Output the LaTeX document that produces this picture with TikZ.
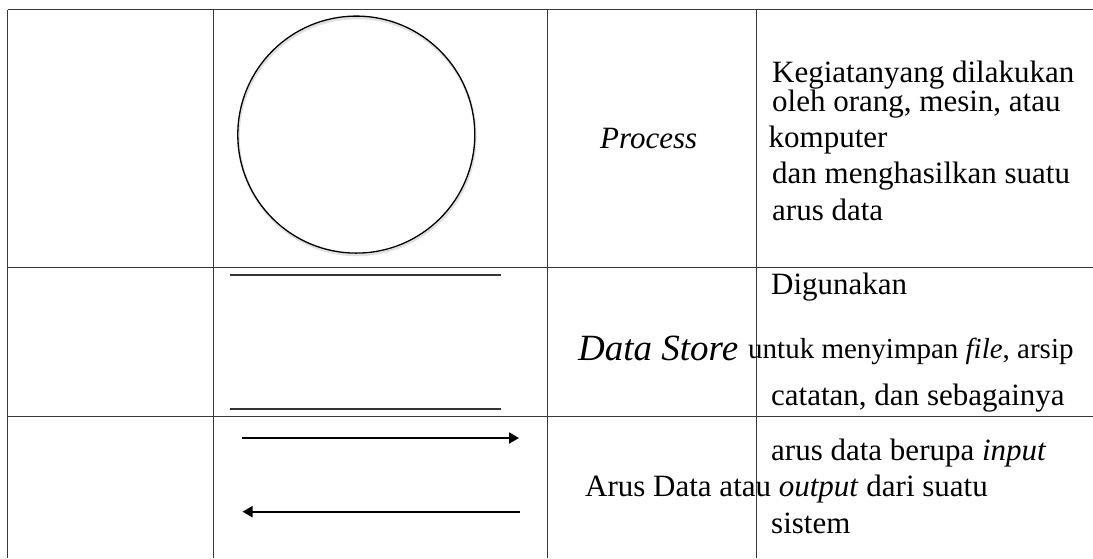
\documentclass[tikz,border=0pt]{standalone}
\usepackage{fontspec}
\setmainfont{Liberation Serif}
\usetikzlibrary{arrows.meta}
\begin{document}
\begin{tikzpicture}[x=1pt,y=-1pt,
  gridline/.style={draw=black!78, line width=1pt},
  txt/.style={anchor=base west, inner sep=0pt, font=\fontsize{31}{31}\selectfont},
  storeline/.style={draw=black!80, line width=1.7pt},
  flow/.style={draw=black, line width=2pt, -{Triangle[length=10pt,width=11pt]}}]
\useasboundingbox (0,0) rectangle (1093,558);
% table grid
\coordinate (tl) at (7.5,9.5);
\coordinate (tr) at (1093,9.5);
\coordinate (r1l) at (7.5,267);
\coordinate (r1r) at (1093,267);
\coordinate (r2l) at (7.5,416);
\coordinate (r2r) at (1093,416);
\coordinate (c0t) at (7.5,9.5);   \coordinate (c0b) at (7.5,558);
\coordinate (c1t) at (213.5,9.5); \coordinate (c1b) at (213.5,558);
\coordinate (c2t) at (547.5,9.5); \coordinate (c2b) at (547.5,558);
\coordinate (c3t) at (756.5,9.5); \coordinate (c3b) at (756.5,558);
\draw[gridline] (tl) -- (tr);
\draw[gridline] (r1l) -- (r1r);
\draw[gridline] (r2l) -- (r2r);
\draw[gridline] (c0t) -- (c0b);
\draw[gridline] (c1t) -- (c1b);
\draw[gridline] (c2t) -- (c2b);
\draw[gridline] (c3t) -- (c3b);
% process circle
\draw[black!12, line width=2.5pt] (357,136.5) circle[radius=118.5];
\node[circle, draw=black, line width=1.3pt, minimum size=237pt, inner sep=0pt] (proc) at (356.3,134.6) {};
% data store lines
\coordinate (ds1a) at (230,275); \coordinate (ds1b) at (501,275);
\coordinate (ds2a) at (230,409.3); \coordinate (ds2b) at (501,409.3);
\draw[storeline] (ds1a) -- (ds1b);
\draw[storeline] (ds2a) -- (ds2b);
% data flow arrows
\coordinate (f1a) at (242,438); \coordinate (f1b) at (519,438);
\coordinate (f2a) at (519.5,511.7); \coordinate (f2b) at (242.5,511.7);
\draw[flow] (f1a) -- (f1b);
\draw[flow] (f2a) -- (f2b);
% row 1 texts
\node[txt] (pname) at (600,148) {\itshape Process};
\node[txt] (p1) at (772,82) {Kegiatanyang dilakukan};
\node[txt] (p2) at (772,111) {oleh orang, mesin, atau};
\node[txt] (p3) at (768.5,147) {komputer};
\node[txt] (p4) at (772,183) {dan menghasilkan suatu};
\node[txt] (p5) at (772,220) {arus data};
% row 2 texts
\node[txt, font=\fontsize{37}{37}\selectfont] (dsname) at (578,360) {\itshape Data Store};
\node[txt] (d1) at (771,294) {Digunakan};
\node[txt, font=\fontsize{29}{29}\selectfont] (d2) at (748,358) {untuk menyimpan \textit{file}, arsip};
\node[txt] (d3) at (771,405) {catatan, dan sebagainya};
% row 3 texts
\node[txt] (a1) at (771,460) {arus data berupa \textit{input}};
\node[txt] (aname) at (585,496) {Arus Data atau \textit{output} dari suatu};
\node[txt] (a3) at (771,533) {sistem};
\end{tikzpicture}
\end{document}
